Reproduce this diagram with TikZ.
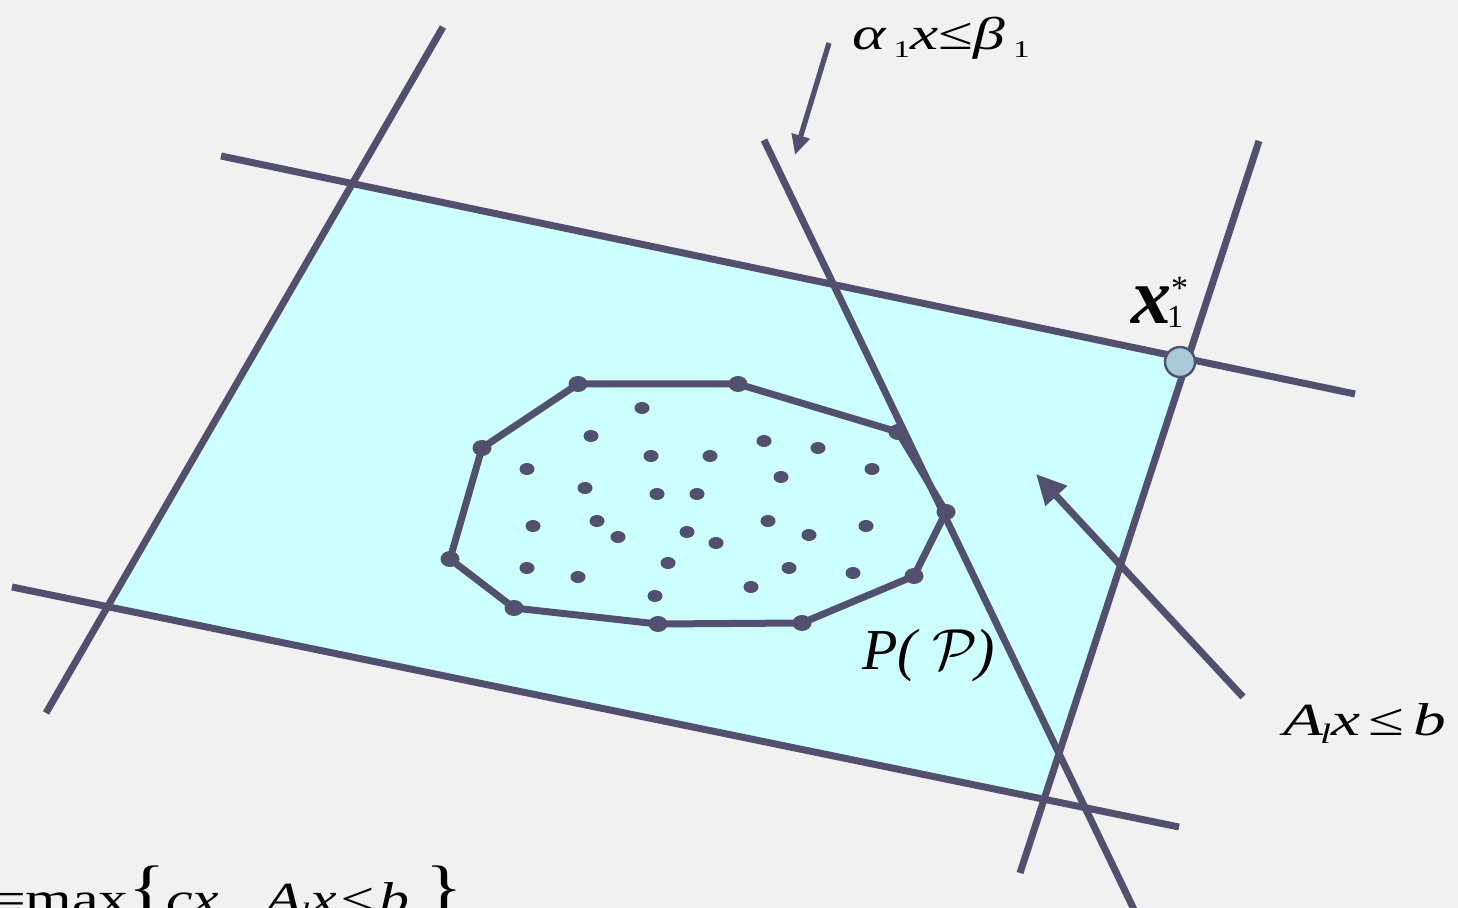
\RequirePackage{fix-cm}
\documentclass[tikz,border=0pt]{standalone}
\usepackage{graphicx}
\usepackage{fontspec}
\setmainfont{Liberation Serif}
\usetikzlibrary{arrows.meta,shapes.geometric}
\pgfdeclarelayer{bg}
\pgfsetlayers{bg,main}
\definecolor{bgc}{RGB}{241,241,241}
\definecolor{linec}{RGB}{82,80,110}
\definecolor{regionc}{RGB}{204,255,255}
\definecolor{ptc}{RGB}{168,202,214}
\tikzset{
  bline/.style={draw=linec, line width=3.5pt},
  vtx/.style={ellipse, fill=linec, minimum width=9.5pt, minimum height=8pt, inner sep=0pt},
  dotpt/.style={ellipse, fill=linec, minimum width=7.5pt, minimum height=6pt, inner sep=0pt},
  lbl/.style={inner sep=0pt, outer sep=0pt, text=black},
}
\begin{document}
\begin{tikzpicture}[x=0.5pt, y=-0.5pt]
\useasboundingbox (0,0) rectangle (1458,908);
% line end points
\coordinate (a1) at (443,27);   \coordinate (a2) at (46,713);
\coordinate (b1) at (221,156);  \coordinate (b2) at (1355,394);
\coordinate (c1) at (12,587);   \coordinate (c2) at (1179,827);
\coordinate (d1) at (1259,141); \coordinate (d2) at (1020,873);
\coordinate (e1) at (764,140);  \coordinate (e2) at (1140,922);
% hull vertices
\node[vtx] (v1) at (578,384) {};
\node[vtx] (v2) at (738,384) {};
\node[vtx] (v3) at (898,432) {};
\node[vtx] (v4) at (946,512) {};
\node[vtx] (v5) at (914,576) {};
\node[vtx] (v6) at (802,623) {};
\node[vtx] (v7) at (658,624) {};
\node[vtx] (v8) at (514,608) {};
\node[vtx] (v9) at (450,559) {};
\node[vtx] (v10) at (482,448) {};
\begin{pgfonlayer}{bg}
\begin{scope}
\clip (0,0) rectangle (1458,908);
\fill[bgc] (0,0) rectangle (1458,908);
\fill[regionc] (intersection of a1--a2 and b1--b2) -- (intersection of b1--b2 and d1--d2)
  -- (intersection of d1--d2 and c1--c2) -- (intersection of c1--c2 and a1--a2) -- cycle;
\draw[bline] (a1) -- (a2);
\draw[bline] (b1) -- (b2);
\draw[bline] (c1) -- (c2);
\draw[bline] (d1) -- (d2);
\draw[bline] (e1) -- (e2);
\draw[bline, line join=round] (v1.center) -- (v2.center) -- (v3.center) -- (v4.center) -- (v5.center)
  -- (v6.center) -- (v7.center) -- (v8.center) -- (v9.center) -- (v10.center) -- cycle;
\end{scope}
\end{pgfonlayer}
% interior points
\foreach \n/\p in {1/{642,408},2/{591,436},3/{651,456},4/{710,456},5/{764,441},6/{818,448},
  7/{872,469},8/{527,469},9/{781,477},10/{585,488},11/{657,494},12/{697,494},13/{533,526},
  14/{597,521},15/{618,537},16/{687,532},17/{716,543},18/{768,521},19/{809,535},20/{866,526},
  21/{527,568},22/{578,577},23/{668,563},24/{789,568},25/{853,573},26/{751,587},27/{655,596}}
  {\node[dotpt] (p\n) at (\p) {};}
% optimal point
\node[circle, fill=ptc, draw=linec, line width=1.2pt, minimum size=15pt, inner sep=0pt] (xs) at (1180,362) {};
% arrows
\coordinate (t1) at (829,43); \coordinate (t2) at (795,155);
\draw[draw=linec, line width=2.6pt, -{Triangle[length=10pt, width=9pt]}] (t1) -- (t2);
\coordinate (r1) at (1243,697); \coordinate (r2) at (1036,474);
\draw[draw=linec, line width=3.5pt, -{Triangle[length=15pt, width=14pt]}] (r1) -- (r2);
% labels
\node[lbl, anchor=base west] (la) at (852,50) {\scalebox{1.38}[1]{\fontsize{23}{23}\selectfont\itshape α\kern3pt\raisebox{-4pt}{\upshape\fontsize{12}{12}\selectfont 1}x\upshape≤\itshape β\kern3pt\raisebox{-4pt}{\upshape\fontsize{12}{12}\selectfont 1}}};
\node[lbl, anchor=base west] (lx) at (1131,324) {\fontsize{40}{40}\selectfont\bfseries\itshape x\kern-2pt\raisebox{-2pt}{\rlap{\mdseries\upshape\fontsize{16}{16}\selectfont 1}}\kern2pt\raisebox{12pt}{\mdseries\upshape\fontsize{17}{17}\selectfont *}};
\node[lbl, anchor=base west] (lp) at (862,670) {\fontsize{29}{29}\selectfont\itshape P(\kern8pt$\mathcal{P}$\kern-1pt)};
\node[lbl, anchor=base west] (lr) at (1283,736) {\scalebox{1.42}[1]{\fontsize{23}{23}\selectfont\itshape A\kern-1pt\raisebox{-4pt}{\fontsize{14}{14}\selectfont l}x\kern3pt\upshape ≤\kern3pt\itshape b}};
\begin{scope}
\clip (0,0) rectangle (1458,908);
\node[lbl, anchor=base west] (lz) at (-8,914) {\scalebox{1.3}[1]{\fontsize{23}{23}\selectfont =max\raisebox{3pt}{\fontsize{30}{30}\selectfont\{}\itshape cx\kern18pt A\kern-1pt\raisebox{-4pt}{\fontsize{14}{14}\selectfont l}x\kern2pt\upshape ≤\kern2pt\itshape b\kern6pt\upshape\raisebox{3pt}{\fontsize{30}{30}\selectfont\}}}};
\end{scope}
\end{tikzpicture}
\end{document}
